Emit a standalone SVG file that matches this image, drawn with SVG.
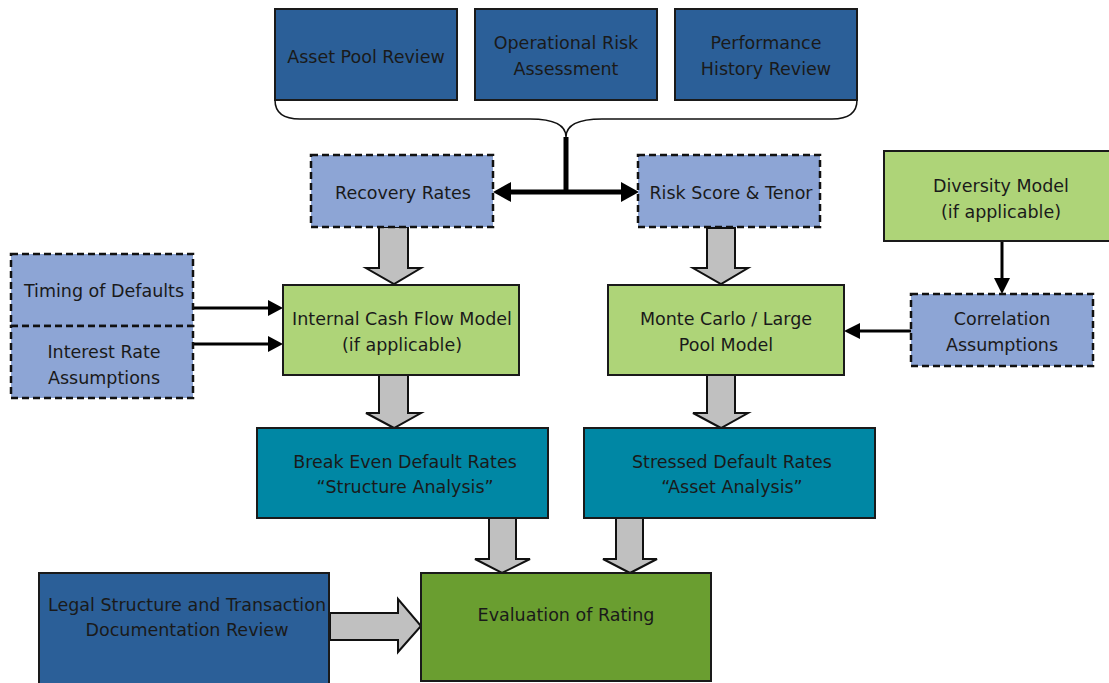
<svg xmlns="http://www.w3.org/2000/svg" width="1109" height="683" viewBox="0 0 1109 683">
<style>
text{font-family:"DejaVu Sans","Verdana",sans-serif;font-size:17.5px;fill:#1a1a1a;text-anchor:middle;dominant-baseline:central}
.db{fill:#2B5F98;stroke:#1a1a1a;stroke-width:2}
.lb{fill:#8DA5D5;stroke:#111;stroke-width:2.5;stroke-dasharray:7 4}
.lg{fill:#AED478;stroke:#1a1a1a;stroke-width:2}
.tl{fill:#0087A4;stroke:#1a1a1a;stroke-width:2}
.dg{fill:#6A9E30;stroke:#1a1a1a;stroke-width:2}
.ga{fill:#C0C0C0;stroke:#111;stroke-width:2;stroke-linejoin:miter}
.ln{stroke:#000;stroke-width:3;fill:none}
.hd{fill:#000}
</style>

<g id="connectors">
<path d="M275,100 C275,112 282,119 300,119 L530,119 C555,119 566,125 566,137 C566,125 577,119 602,119 L832,119 C850,119 857,112 857,100" fill="none" stroke="#111" stroke-width="1.5"/>
<line x1="566" y1="137" x2="566" y2="194" stroke="#000" stroke-width="5"/>
<line x1="508" y1="192" x2="624" y2="192" stroke="#000" stroke-width="5"/>
<path class="hd" d="M493,192 L511,182 L511,202 Z"/>
<path class="hd" d="M639,192 L621,182 L621,202 Z"/>
<line x1="193" y1="308" x2="270" y2="308" class="ln"/>
<path class="hd" d="M283,308 L268,300 L268,316 Z"/>
<line x1="193" y1="344" x2="270" y2="344" class="ln"/>
<path class="hd" d="M283,344 L268,336 L268,352 Z"/>
<line x1="911" y1="331" x2="858" y2="331" class="ln"/>
<path class="hd" d="M844,331 L860,323 L860,339 Z"/>
<line x1="1002" y1="242" x2="1002" y2="280" class="ln"/>
<path class="hd" d="M1002,294 L994,278 L1010,278 Z"/>
<path class="ga" d="M379,227 L408,227 L408,268 L421,268 L394,284 L366,268 L379,268 Z"/>
<path class="ga" d="M707,228 L735,228 L735,268 L748,268 L721,284 L693,268 L707,268 Z"/>
<path class="ga" d="M379,374 L408,374 L408,413 L421,413 L394,428 L366,413 L379,413 Z"/>
<path class="ga" d="M707,375 L735,375 L735,413 L748,413 L721,428 L693,413 L707,413 Z"/>
<path class="ga" d="M489,518 L516,518 L516,559 L530,559 L502,573 L475,559 L489,559 Z"/>
<path class="ga" d="M616,518 L643,518 L643,559 L657,559 L630,573 L603,559 L616,559 Z"/>
<path class="ga" d="M330,613 L398,613 L398,599 L421,626 L398,652 L398,640 L330,640 Z"/>
</g>

<g id="asset-pool"><rect class="db" x="275" y="9" width="182" height="91"/><text x="366" y="57">Asset Pool Review</text></g>
<g id="operational-risk"><rect class="db" x="475" y="9" width="182" height="91"/><text x="566" y="43">Operational Risk</text><text x="566" y="69">Assessment</text></g>
<g id="performance-history"><rect class="db" x="675" y="9" width="182" height="91"/><text x="766" y="43">Performance</text><text x="766" y="69">History Review</text></g>

<g id="recovery-rates"><rect class="lb" x="311" y="155" width="182" height="72"/><text x="403" y="193">Recovery Rates</text></g>
<g id="risk-score"><rect class="lb" x="638" y="155" width="182" height="72"/><text x="731" y="193">Risk Score &amp; Tenor</text></g>
<g id="diversity-model"><rect class="lg" x="884" y="151" width="230" height="90"/><text x="1001" y="186">Diversity Model</text><text x="1001" y="212">(if applicable)</text></g>

<g id="timing-defaults"><rect class="lb" x="11" y="254" width="182" height="72"/><text x="104" y="291">Timing of Defaults</text></g>
<g id="interest-rate"><rect class="lb" x="11" y="326" width="182" height="72"/><text x="104" y="352">Interest Rate</text><text x="104" y="378">Assumptions</text></g>

<g id="internal-cash-flow"><rect class="lg" x="283" y="285" width="236" height="90"/><text x="402" y="319">Internal Cash Flow Model</text><text x="402" y="345">(if applicable)</text></g>
<g id="monte-carlo"><rect class="lg" x="608" y="285" width="236" height="90"/><text x="726" y="319">Monte Carlo / Large</text><text x="726" y="345">Pool Model</text></g>
<g id="correlation"><rect class="lb" x="911" y="294" width="182" height="72"/><text x="1002" y="319">Correlation</text><text x="1002" y="345">Assumptions</text></g>

<g id="break-even"><rect class="tl" x="257" y="428" width="291" height="90"/><text x="405" y="462">Break Even Default Rates</text><text x="405" y="487">“Structure Analysis”</text></g>
<g id="stressed"><rect class="tl" x="584" y="428" width="291" height="90"/><text x="732" y="462">Stressed Default Rates</text><text x="732" y="487">“Asset Analysis”</text></g>

<g id="legal-structure"><rect class="db" x="39" y="573" width="290" height="120"/><text x="187" y="605">Legal Structure and Transaction</text><text x="187" y="630">Documentation Review</text></g>
<g id="evaluation"><rect class="dg" x="421" y="573" width="290" height="108"/><text x="566" y="615">Evaluation of Rating</text></g>
</svg>
